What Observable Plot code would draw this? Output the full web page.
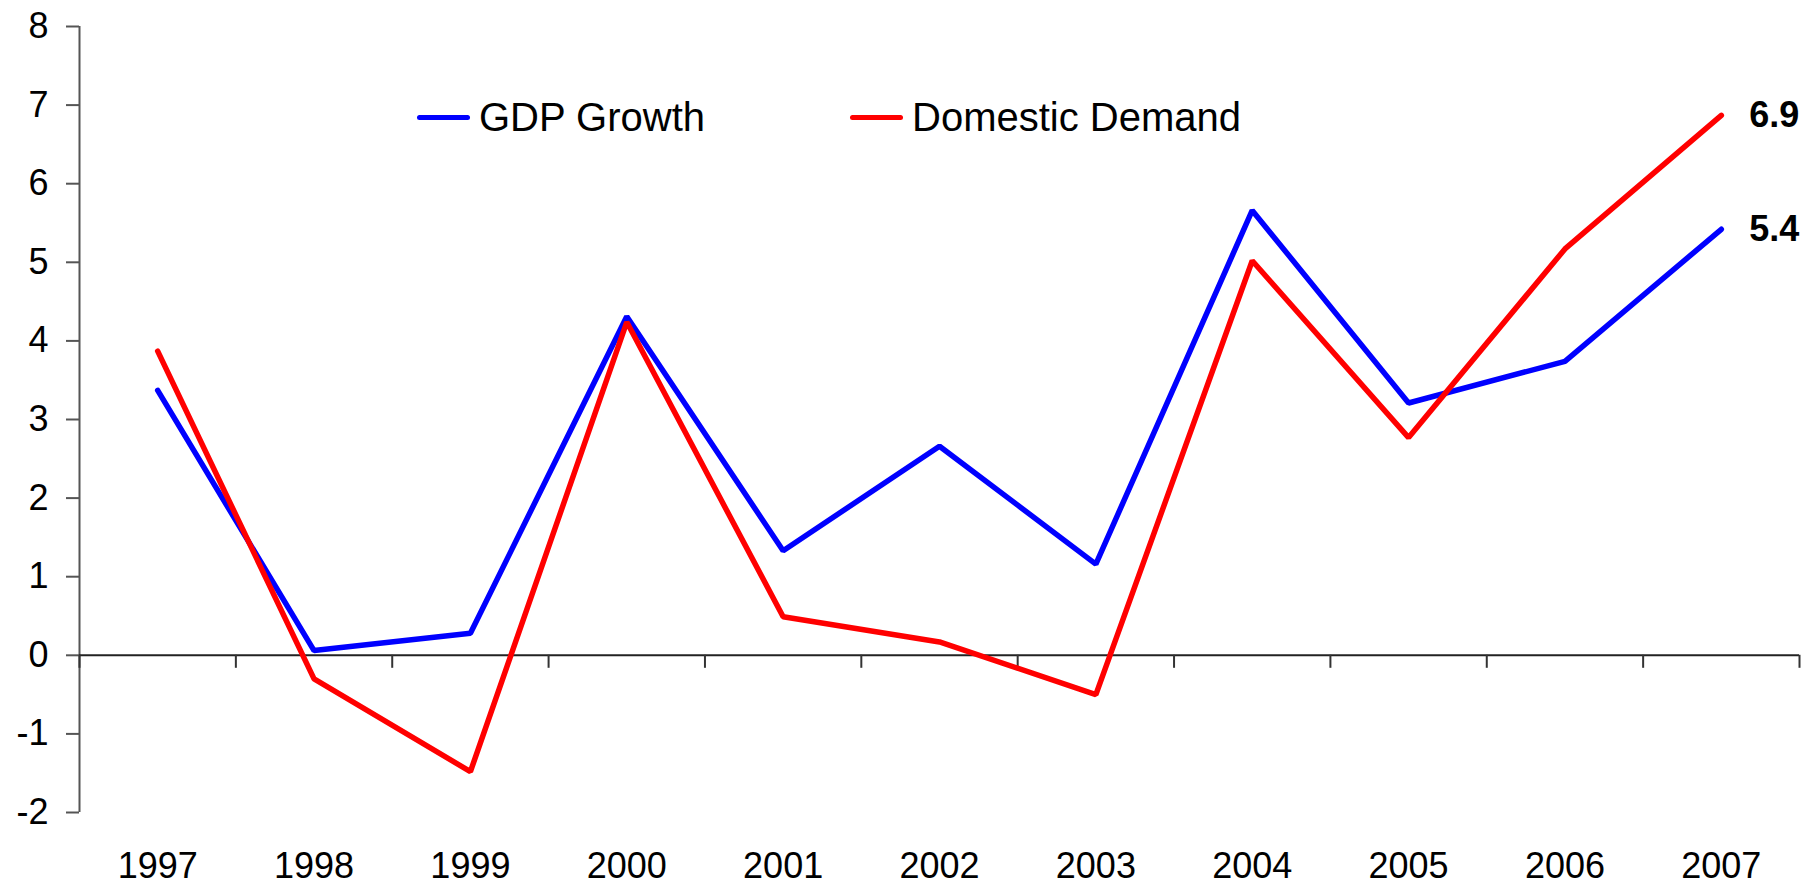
<!DOCTYPE html>
<html>
<head>
<meta charset="utf-8">
<script src="https://cdn.jsdelivr.net/npm/d3@7"></script>
<script src="https://cdn.jsdelivr.net/npm/@observablehq/plot@0.6"></script>
<style>
  html, body { margin: 0; padding: 0; background: #fff; }
  #wrap { position: relative; width: 1805px; height: 887px; font-family: "Liberation Sans", Arial, sans-serif; }
  #legend { position: absolute; left: 0; top: 0; width: 1805px; height: 0; }
  .li { position: absolute; top: 95px; display: flex; align-items: center; font-size: 40px; color: #000; white-space: nowrap; }
  .sw { width: 53px; height: 5px; border-radius: 3px; margin-right: 9px; }
</style>
</head>
<body>
<div id="wrap">
  <div id="chart"></div>
  <div id="legend"></div>
</div>
<script>
const years = [1997, 1998, 1999, 2000, 2001, 2002, 2003, 2004, 2005, 2006, 2007];
const gdpGrowth = [3.37, 0.06, 0.28, 4.31, 1.33, 2.66, 1.16, 5.66, 3.21, 3.74, 5.42];
const domesticDemand = [3.87, -0.30, -1.48, 4.24, 0.49, 0.17, -0.50, 5.02, 2.77, 5.17, 6.87];
const seriesNames = ["GDP Growth", "Domestic Demand"];
const seriesColors = ["#0000ff", "#ff0000"];
const endLabels = ["5.4", "6.9"];
const yTicks = [-2, -1, 0, 1, 2, 3, 4, 5, 6, 7, 8];
const boundaries = [1996.5, 1997.5, 1998.5, 1999.5, 2000.5, 2001.5, 2002.5, 2003.5, 2004.5, 2005.5, 2006.5, 2007.5];

const rows = [];
years.forEach((yr, i) => {
  rows.push({year: yr, value: gdpGrowth[i], series: seriesNames[0]});
  rows.push({year: yr, value: domesticDemand[i], series: seriesNames[1]});
});
const last = years.length - 1;
const ends = [
  {year: years[last], value: gdpGrowth[last], label: endLabels[0]},
  {year: years[last], value: domesticDemand[last], label: endLabels[1]}
];

const chart = Plot.plot({
  width: 1805,
  height: 887,
  marginLeft: 79,
  marginRight: 6,
  marginTop: 26,
  marginBottom: 75,
  style: {fontFamily: "Liberation Sans, Arial, sans-serif", background: "#fff", overflow: "visible"},
  x: {domain: [1996.5, 2007.5]},
  y: {domain: [-2, 8]},
  color: {domain: seriesNames, range: seriesColors},
  marks: [
    Plot.ruleX([boundaries[0]], {y1: -2, y2: 8, stroke: "#555", strokeWidth: 2}),
    Plot.axisY({ticks: yTicks, tickSize: 13, tickPadding: 18, fontSize: 36, stroke: "#555", strokeWidth: 2, strokeOpacity: 1, tickFormat: d => String(d), label: null, fill: "#000"}),
    Plot.ruleY([0], {stroke: "#222", strokeWidth: 2}),
    Plot.ruleX(boundaries, {y1: 0, y2: 0, insetBottom: -13, stroke: "#333", strokeWidth: 2}),
    Plot.axisX({ticks: years, tickSize: 0, tickPadding: 40, fontSize: 36, tickFormat: d => String(d), label: null, fill: "#000"}),
    Plot.line(rows, {x: "year", y: "value", z: "series", stroke: "series", strokeWidth: 5.5, strokeLinejoin: "miter", strokeLinecap: "round"}),
    Plot.text(ends, {x: "year", y: "value", text: "label", dx: 28, textAnchor: "start", fontSize: 36, fontWeight: "bold", fill: "#000"})
  ]
});
document.getElementById("chart").appendChild(chart);

const legendPos = [417, 850];
const leg = document.getElementById("legend");
seriesNames.forEach((name, i) => {
  const item = document.createElement("div");
  item.className = "li";
  item.style.left = legendPos[i] + "px";
  const sw = document.createElement("span");
  sw.className = "sw";
  sw.style.background = seriesColors[i];
  const t = document.createElement("span");
  t.textContent = name;
  item.appendChild(sw);
  item.appendChild(t);
  leg.appendChild(item);
});
</script>
</body>
</html>
